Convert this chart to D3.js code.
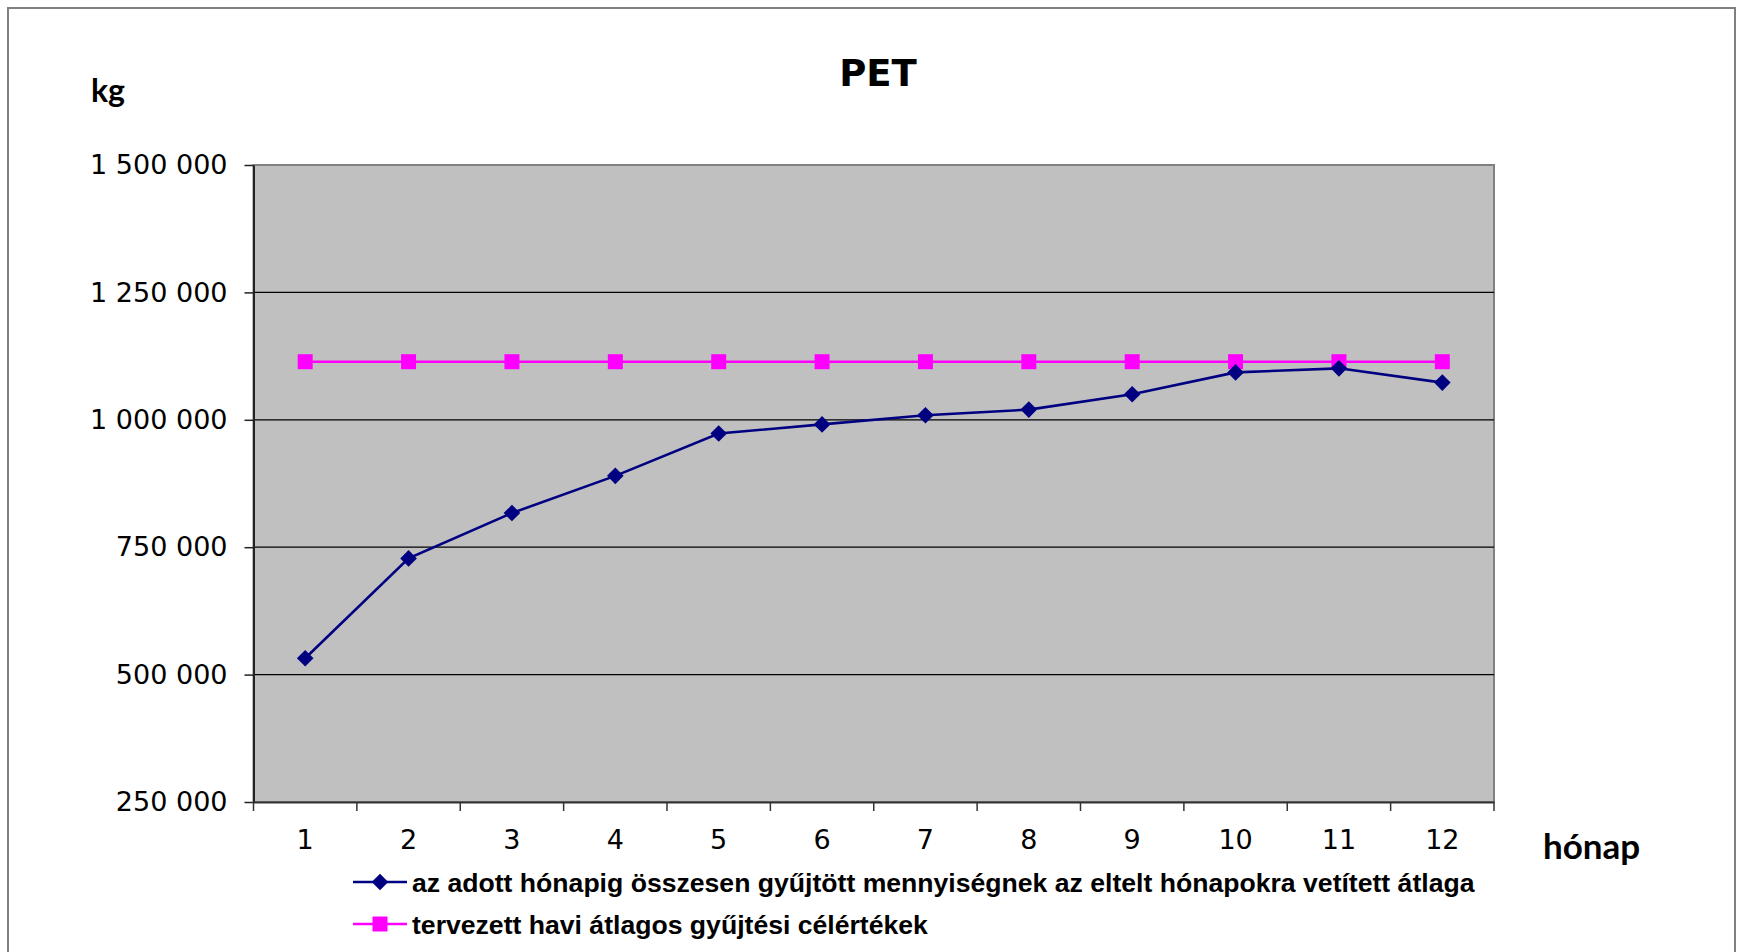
<!DOCTYPE html>
<html>
<head>
<meta charset="utf-8">
<script src="https://cdn.jsdelivr.net/npm/d3@7"></script>
<style>
  html, body { margin: 0; padding: 0; background: #fff; }
  svg { display: block; }
</style>
</head>
<body>
<svg id="chart" width="1741" height="952"></svg>
<script>
// ---- data ----
const months = [1, 2, 3, 4, 5, 6, 7, 8, 9, 10, 11, 12];
const cumulativeAverage = [532000, 728000, 817000, 890000, 973000, 991000, 1009000, 1020000, 1050000, 1093000, 1101000, 1073000];
const plannedTarget = [1114000, 1114000, 1114000, 1114000, 1114000, 1114000, 1114000, 1114000, 1114000, 1114000, 1114000, 1114000];
const yTicks = [250000, 500000, 750000, 1000000, 1250000, 1500000];
const seriesNames = [
  "az adott hónapig összesen gyűjtött mennyiségnek az eltelt hónapokra vetített átlaga",
  "tervezett havi átlagos gyűjtési célértékek"
];
const titleText = "PET";
const yUnit = "kg";
const xUnit = "hónap";

// ---- layout ----
const svg = d3.select("#chart");
const plot = { left: 253.5, right: 1494, top: 165, bottom: 802 };

// outer chart border
svg.append("rect")
  .attr("x", 8).attr("y", 8).attr("width", 1727).attr("height", 1000)
  .attr("fill", "#fff").attr("stroke", "#808080").attr("stroke-width", 2);

const x = d3.scaleBand().domain(months).range([plot.left, plot.right]).paddingInner(0).paddingOuter(0);
const y = d3.scaleLinear().domain([250000, 1500000]).range([plot.bottom, plot.top]);
const cx = d => x(d) + x.bandwidth() / 2;

// plot area background
svg.append("rect")
  .attr("x", plot.left).attr("y", plot.top)
  .attr("width", plot.right - plot.left).attr("height", plot.bottom - plot.top)
  .attr("fill", "#C0C0C0").attr("stroke", "#808080").attr("stroke-width", 2);

// gridlines
svg.append("g").selectAll("line")
  .data(yTicks.filter(v => v > 250000 && v < 1500000))
  .join("line")
  .attr("x1", plot.left).attr("x2", plot.right)
  .attr("y1", d => y(d)).attr("y2", d => y(d))
  .attr("stroke", "#000").attr("stroke-width", 1.3);

// y axis
const fmt = v => d3.format(",")(v).replace(/,/g, " ");
const yAxis = svg.append("g")
  .attr("transform", `translate(${plot.left},0)`)
  .call(d3.axisLeft(y).tickValues(yTicks).tickFormat(fmt).tickSize(9).tickSizeOuter(0).tickPadding(17));
yAxis.select(".domain").attr("stroke", "#222").attr("stroke-width", 2);
yAxis.selectAll(".tick line").attr("stroke", "#222").attr("stroke-width", 1.5);
yAxis.selectAll(".tick text")
  .attr("font-family", "DejaVu Sans").attr("font-size", 27).attr("fill", "#000");

// x axis
const xAxis = svg.append("g")
  .attr("transform", `translate(0,${plot.bottom})`)
  .call(d3.axisBottom(x).tickSize(0).tickSizeOuter(0).tickPadding(28));
xAxis.select(".domain").attr("stroke", "#333").attr("stroke-width", 2);
xAxis.selectAll(".tick text")
  .attr("font-family", "DejaVu Sans").attr("font-size", 27).attr("fill", "#000");
// category boundary ticks
const boundaries = months.map(m => x(m)).concat([x(months[months.length - 1]) + x.bandwidth()]);
xAxis.append("g").selectAll("line")
  .data(boundaries)
  .join("line")
  .attr("x1", d => d).attr("x2", d => d)
  .attr("y1", 0).attr("y2", 9)
  .attr("stroke", "#333").attr("stroke-width", 1.5);

// series lines
const line = d3.line().x((d, i) => cx(months[i])).y(d => y(d));
svg.append("path").datum(plannedTarget)
  .attr("d", line).attr("fill", "none").attr("stroke", "#FF00FF").attr("stroke-width", 2.5);
svg.append("path").datum(cumulativeAverage)
  .attr("d", line).attr("fill", "none").attr("stroke", "#000080").attr("stroke-width", 2.6);

// markers
const diamond = (g, px, py, r) => g.append("path")
  .attr("d", `M${px},${py - r}L${px + r},${py}L${px},${py + r}L${px - r},${py}Z`)
  .attr("fill", "#000080");
const square = (g, px, py, s) => g.append("rect")
  .attr("x", px - s / 2).attr("y", py - s / 2).attr("width", s).attr("height", s)
  .attr("fill", "#FF00FF");

const mk = svg.append("g");
plannedTarget.forEach((v, i) => square(mk, cx(months[i]), y(v), 15));
cumulativeAverage.forEach((v, i) => diamond(mk, cx(months[i]), y(v), 8.3));

// title and axis unit labels
svg.append("text").attr("x", 878).attr("y", 86)
  .attr("text-anchor", "middle")
  .attr("font-family", "DejaVu Sans").attr("font-weight", "bold").attr("font-size", 37)
  .text(titleText);
svg.append("text").attr("x", 91).attr("y", 102)
  .attr("font-family", "Lato").attr("font-weight", "bold").attr("font-size", 32)
  .text(yUnit);
svg.append("text").attr("x", 1543).attr("y", 859)
  .attr("font-family", "Lato").attr("font-weight", "bold").attr("font-size", 35)
  .text(xUnit);

// legend
const legend = svg.append("g");
const legY = [882, 924];
// entry 1
legend.append("line").attr("x1", 353).attr("x2", 407).attr("y1", legY[0]).attr("y2", legY[0])
  .attr("stroke", "#000080").attr("stroke-width", 2.6);
diamond(legend, 380, legY[0], 8.3);
// entry 2
legend.append("line").attr("x1", 353).attr("x2", 407).attr("y1", legY[1]).attr("y2", legY[1])
  .attr("stroke", "#FF00FF").attr("stroke-width", 2.5);
square(legend, 380, legY[1], 15);

legend.selectAll("text.leg")
  .data(seriesNames)
  .join("text")
  .attr("class", "leg")
  .attr("x", 412)
  .attr("y", (d, i) => legY[i] + 9.5)
  .attr("font-family", "Liberation Sans").attr("font-weight", "bold").attr("font-size", 26.6)
  .attr("fill", "#000")
  .text(d => d);
</script>
</body>
</html>
